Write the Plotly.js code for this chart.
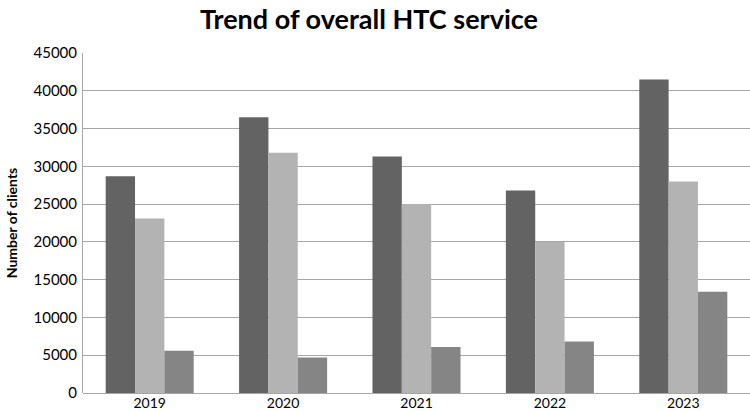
<!DOCTYPE html>
<html>
<head>
<meta charset="utf-8">
<script src="https://cdn.plot.ly/plotly-3.0.1.min.js"></script>
<style>html,body{margin:0;padding:0;background:#fff;}#chart{width:750px;height:411px;}</style>
</head>
<body>
<div id="chart"></div>
<script>
const years = ["2019", "2020", "2021", "2022", "2023"];
const seriesA = [28700, 36500, 31300, 26800, 41500];
const seriesB = [23100, 31800, 25000, 20000, 28000];
const seriesC = [5600, 4700, 6100, 6800, 13400];
const seriesNames = ["Series 1", "Series 2", "Series 3"];
const colors = ["#636363", "#b3b3b3", "#858585"];

const traces = [seriesA, seriesB, seriesC].map((v, i) => ({
  type: "bar",
  x: years,
  y: v,
  name: seriesNames[i],
  marker: {color: colors[i], line: {width: 0}},
  hoverinfo: "x+y"
}));

const layout = {
  width: 750,
  height: 411,
  margin: {l: 83, r: 0, t: 53, b: 18},
  paper_bgcolor: "#ffffff",
  plot_bgcolor: "#ffffff",
  showlegend: false,
  barmode: "group",
  bargap: 0.34,
  bargroupgap: 0,
  font: {family: "Lato, 'Open Sans', sans-serif", color: "#000000", size: 14},
  title: {
    text: "<b>Trend of overall HTC service</b>",
    x: 0.492, xanchor: "center",
    y: 0.975, yanchor: "top",
    font: {family: "Lato, sans-serif", size: 27, color: "#000000"}
  },
  xaxis: {
    type: "category",
    showgrid: false,
    showline: false,
    ticks: "",
    tickfont: {size: 14, color: "#000000"},
    ticklabelstandoff: 0
  },
  yaxis: {
    range: [0, 45000],
    tickvals: [0, 5000, 10000, 15000, 20000, 25000, 30000, 35000, 40000, 45000],
    ticktext: ["0", "5000", "10000", "15000", "20000", "25000", "30000", "35000", "40000", "45000"],
    showgrid: true,
    gridcolor: "#a6a6a6",
    gridwidth: 1,
    zeroline: true,
    zerolinecolor: "#a6a6a6",
    zerolinewidth: 1,
    showline: true,
    linecolor: "#a6a6a6",
    linewidth: 1,
    ticks: "",
    tickfont: {size: 15, color: "#000000"},
    ticklabelstandoff: 2,
    title: {
      text: "<b>Number of clients</b>",
      font: {size: 14, color: "#000000"},
      standoff: 12
    }
  }
};

Plotly.newPlot("chart", traces, layout, {displayModeBar: false, staticPlot: true});
</script>
</body>
</html>
